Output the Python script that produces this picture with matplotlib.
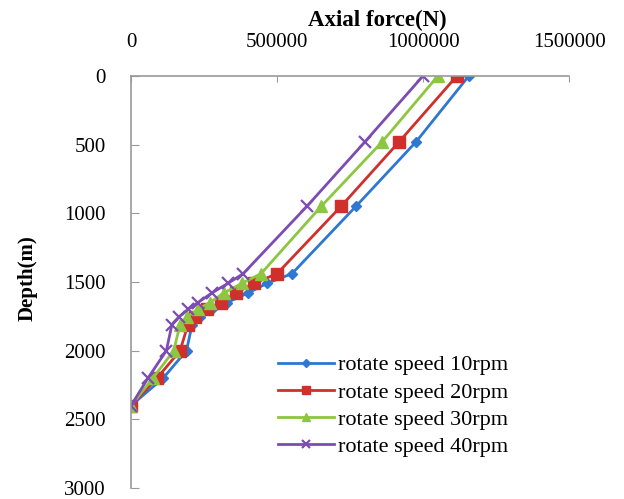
import matplotlib
matplotlib.use("Agg")
import matplotlib.pyplot as plt

# --- data (force in N, depth in m) ---
depth = [0, 480, 950, 1440, 1510, 1580, 1650, 1700, 1755, 1810, 2000, 2200, 2400]
f10 = [1157000, 976000, 770000, 551000, 466000, 401000, 329000, 277000, 236000, 209000, 190000, 110000, 0]
f20 = [1116000, 918000, 719000, 500000, 421000, 360000, 308000, 260000, 219000, 195000, 168000, 89000, 0]
f30 = [1051000, 860000, 651000, 445000, 380000, 318000, 270000, 228000, 192000, 168000, 146000, 75000, 0]
f40 = [1000000, 801000, 602000, 384000, 332000, 277000, 229000, 195000, 164000, 140000, 121000, 58000, 0]
labels = ["rotate speed 10rpm", "rotate speed 20rpm", "rotate speed 30rpm", "rotate speed 40rpm"]
xticks = [0, 500000, 1000000, 1500000]
yticks = [0, 500, 1000, 1500, 2000, 2500, 3000]

plt.rcParams["font.family"] = ["Liberation Serif", "DejaVu Serif"]

fig = plt.figure(figsize=(6.24, 4.99), dpi=100)
ax = fig.add_axes([0.21, 0.022, 0.702, 0.826])

styles = [
    ("#2E78D2", "D", 5, 1.0),
    ("#D0302C", "s", 8, 1.0),
    ("#8DC641", "^", 8, 1.0),
    ("#7D4CB3", "x", 8, 1.6),
]
for f, lab, (c, m, ms, mew) in zip([f10, f20, f30, f40], labels, styles):
    ax.plot(f, depth, color=c, lw=2.0, marker=m, ms=ms, mew=mew, label=lab)

ax.set_xlim(0, 1500000)
ax.set_ylim(3000, 0)
ax.set_xticks(xticks)
ax.set_yticks(yticks)
ax.set_xticklabels([str(v) for v in xticks])
ax.xaxis.tick_top()
ax.tick_params(axis="x", direction="in", length=4, color="#999999", pad=17, labelsize=15)
ax.tick_params(axis="y", direction="in", length=6, color="#999999", pad=18, labelsize=15)

for s in ["right", "bottom"]:
    ax.spines[s].set_visible(False)
for s in ["left", "top"]:
    ax.spines[s].set_color("#999999")
    ax.spines[s].set_linewidth(1.2)

fig.text(377 / 624, 1 - 20 / 499, "Axial force(N)", ha="center", va="center",
         fontsize=16.5, fontweight="bold")
fig.text(28 / 624, 1 - 278 / 499, "Depth(m)", ha="center", va="center",
         fontsize=15, fontweight="bold", rotation=90)

ax.legend(loc="upper left", bbox_to_anchor=(0.31, 0.35), frameon=False, fontsize=16,
          handlelength=2.5, handletextpad=0.2, labelspacing=0.3, borderpad=0,
          markerscale=0.75)

fig.savefig("out.png", dpi=100)
